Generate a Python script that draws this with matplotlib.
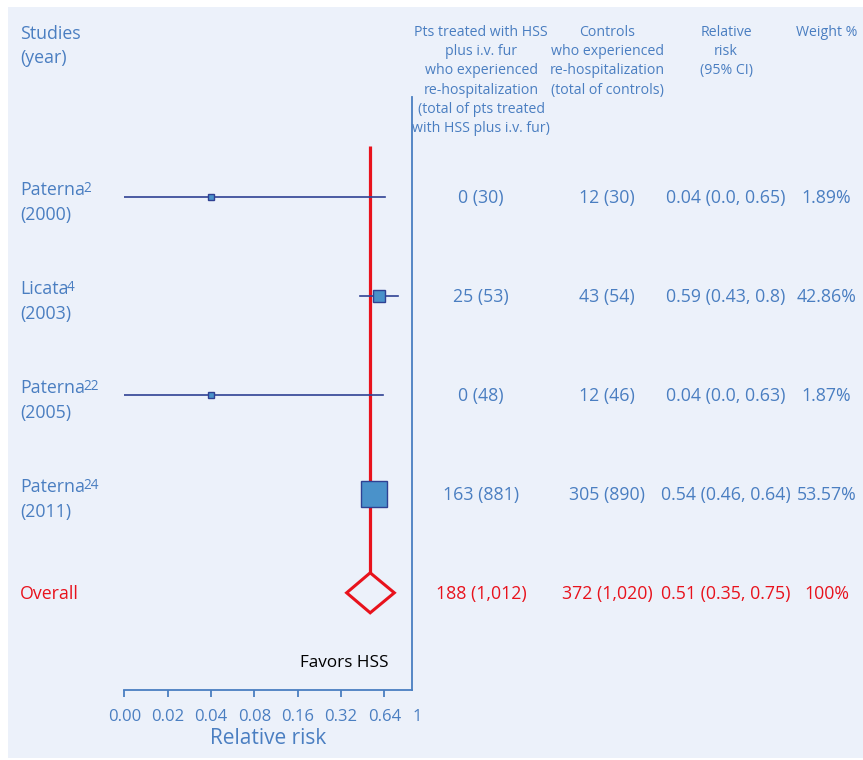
import matplotlib
matplotlib.use("Agg")
import matplotlib.pyplot as plt
from matplotlib.patches import Rectangle, Polygon
from matplotlib.ticker import FixedLocator

plt.rcParams["font.family"] = ["Open Sans", "DejaVu Sans"]

# ---- data -------------------------------------------------------------
studies = ["Paterna", "Licata", "Paterna", "Paterna"]
refs = ["2", "4", "22", "24"]
years = ["2000", "2003", "2005", "2011"]
rr = [0.04, 0.59, 0.04, 0.54]
ci_low = [0.0, 0.43, 0.0, 0.46]
ci_high = [0.65, 0.8, 0.63, 0.64]
weights = [1.89, 42.86, 1.87, 53.57]
hss_events = [0, 25, 0, 163]
hss_total = [30, 53, 48, 881]
ctrl_events = [12, 43, 12, 305]
ctrl_total = [30, 54, 46, 890]

overall_rr = 0.51
overall_low = 0.35
overall_high = 0.75
overall_weight = 100
overall_hss_events = 188
overall_hss_total = 1012
overall_ctrl_events = 372
overall_ctrl_total = 1020

tick_values = [0.01, 0.02, 0.04, 0.08, 0.16, 0.32, 0.64, 1.0]
tick_labels = ["0.00", "0.02", "0.04", "0.08", "0.16", "0.32", "0.64", "1"]

# ---- style ------------------------------------------------------------
BG = "#ECF1FA"
BLUE = "#4A7EC1"
RED = "#E8121C"
NAVY = "#2F4193"
SQ_FILL = "#4A92CA"
square_px = [6, 12, 6, 27]

W, H = 863, 760
fig = plt.figure(figsize=(W / 100, H / 100), dpi=100)
fig.patch.set_facecolor("white")
fig.add_artist(Rectangle((8 / W, 2 / H), 1 - 8 / W, 1 - 9 / H,
                         transform=fig.transFigure, facecolor=BG,
                         edgecolor="none", zorder=-10))
renderer = fig.canvas.get_renderer()


def fx(px):
    return px / W


def fy(py):
    return 1 - py / H


# plot area: x 0.01..1 on a log2 scale
ax_l, ax_r, ax_t, ax_b = 124.3, 412.3, 97, 690
ax = fig.add_axes([fx(ax_l), fy(ax_b), fx(ax_r - ax_l), (ax_b - ax_t) / H])
ax.set_facecolor("none")
ax.set_xscale("log", base=2)
ax.set_xlim(0.01, 1)
row_px = 99.0
first_row = 196.8
ax.set_ylim((ax_b - first_row) / row_px, (ax_t - first_row) / row_px)

for s in ("left", "top"):
    ax.spines[s].set_visible(False)
for s in ("right", "bottom"):
    ax.spines[s].set_color(BLUE)
    ax.spines[s].set_linewidth(1.3)
ax.set_yticks([])
ax.xaxis.set_major_locator(FixedLocator(tick_values))
ax.set_xticklabels(tick_labels)
ax.xaxis.set_minor_locator(FixedLocator([]))
ax.tick_params(axis="x", which="major", direction="out", length=5, width=1.3,
               color=BLUE, labelcolor=BLUE, labelsize=12, pad=9)
# the last tick sits on the right border: label only, no mark
last_tick = ax.xaxis.get_major_ticks()[-1]
last_tick.tick1line.set_visible(False)
last_tick.label1.set_horizontalalignment("left")
ax.set_xlabel("Relative risk", color=BLUE, fontsize=15, labelpad=2)

n = len(rr)
diamond_half = 20 / row_px

# reference line at the pooled estimate
ax.plot([overall_rr, overall_rr], [(146 - first_row) / row_px, n - diamond_half],
        color=RED, lw=2.3, solid_capstyle="butt", zorder=2)

# study confidence intervals and squares
for i in range(n):
    lo = max(ci_low[i], 0.01)
    ax.plot([lo, ci_high[i]], [i, i], color=NAVY, lw=1.2, zorder=3)
    ax.plot([rr[i]], [i], marker="s", ms=square_px[i] * 0.72,
            mfc=SQ_FILL, mec=NAVY, mew=1.0, zorder=4, linestyle="none")

# pooled diamond
ax.add_patch(Polygon([(overall_low, n), (overall_rr, n - diamond_half),
                      (overall_high, n), (overall_rr, n + diamond_half)],
                     closed=True, facecolor="none", edgecolor=RED, lw=2.2,
                     zorder=4))

ax.text(388 / W, fy(663), "Favors HSS", transform=fig.transFigure,
        ha="right", va="center", color="black", fontsize=12.3)


def fmt(v):
    s = f"{v:.2f}".rstrip("0")
    return s + "0" if s.endswith(".") else s


# ---- left labels ------------------------------------------------------
fig.text(fx(20), fy(34), "Studies", color=BLUE, fontsize=12.8, va="center")
fig.text(fx(20), fy(58), "(year)", color=BLUE, fontsize=12.8, va="center")
for i in range(n):
    yc = first_row + i * row_px
    name = fig.text(fx(20), fy(yc - 1.5), studies[i], color=BLUE,
                    fontsize=12.8, va="baseline")
    bb = name.get_window_extent(renderer)
    fig.text((bb.x1 - 1.5) / W, fy(yc - 4.5), refs[i], color=BLUE,
             fontsize=9.8, va="baseline")
    fig.text(fx(20), fy(yc + 18), f"({years[i]})", color=BLUE,
             fontsize=12.8, va="center")
fig.text(fx(20), fy(first_row + n * row_px + 1), "Overall", color=RED,
         fontsize=12.8, va="center")

# ---- column headers ---------------------------------------------------
col_x = [481, 607, 726, 826.5]
headers = [
    ["Pts treated with HSS", "plus i.v. fur", "who experienced",
     "re-hospitalization", "(total of pts treated", "with HSS plus i.v. fur)"],
    ["Controls", "who experienced", "re-hospitalization", "(total of controls)"],
    ["Relative", "risk", "(95% CI)"],
    ["Weight %"],
]
for cx, lines in zip(col_x, headers):
    for k, line in enumerate(lines):
        fig.text(fx(cx), fy(32.5 + k * 19.2), line, color=BLUE, fontsize=10.2,
                 ha="center", va="center")

# ---- table values -----------------------------------------------------
for i in range(n):
    yc = fy(first_row + i * row_px + 1)
    vals = [f"{hss_events[i]:,} ({hss_total[i]:,})",
            f"{ctrl_events[i]:,} ({ctrl_total[i]:,})",
            f"{fmt(rr[i])} ({fmt(ci_low[i])}, {fmt(ci_high[i])})",
            f"{weights[i]:g}%"]
    for cx, v in zip(col_x, vals):
        fig.text(fx(cx), yc, v, color=BLUE, fontsize=12.8, ha="center",
                 va="center")

yc = fy(first_row + n * row_px + 1)
vals = [f"{overall_hss_events:,} ({overall_hss_total:,})",
        f"{overall_ctrl_events:,} ({overall_ctrl_total:,})",
        f"{fmt(overall_rr)} ({fmt(overall_low)}, {fmt(overall_high)})",
        f"{overall_weight:g}%"]
for cx, v in zip(col_x, vals):
    fig.text(fx(cx), yc, v, color=RED, fontsize=12.8, ha="center",
             va="center")

fig.savefig("out.png", dpi=100, facecolor=fig.get_facecolor())
